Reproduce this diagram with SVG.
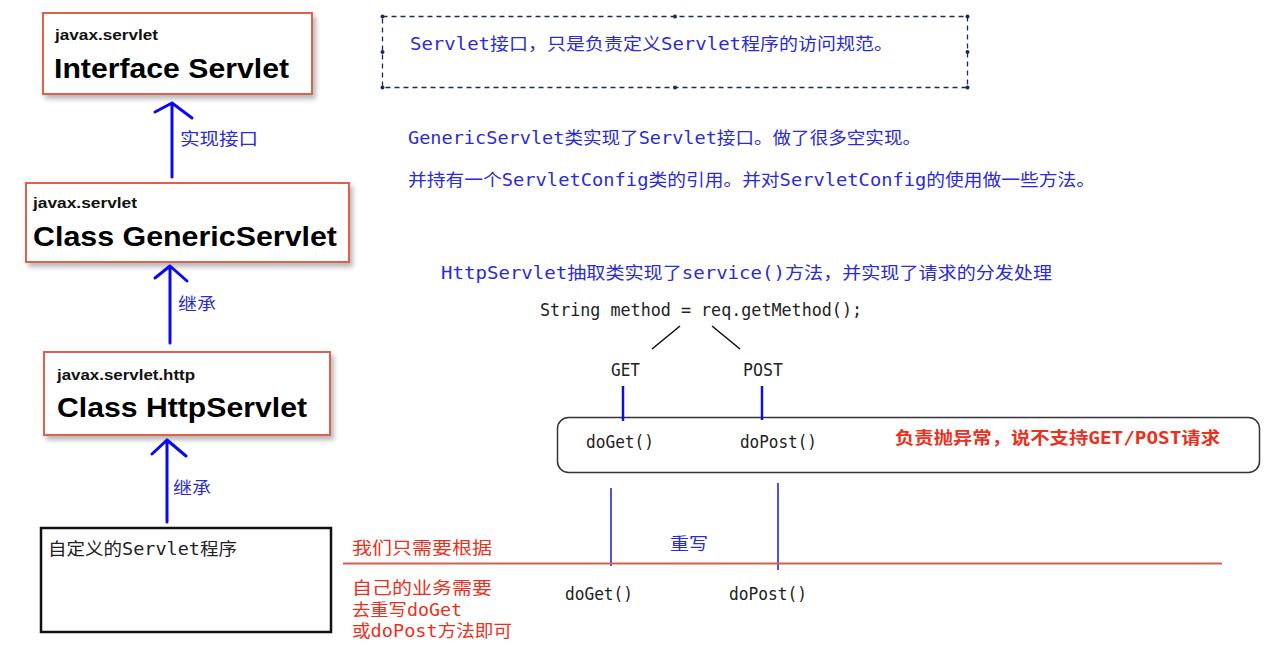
<svg xmlns="http://www.w3.org/2000/svg" width="1280" height="664" viewBox="0 0 1280 664">
<defs>
<filter id="sh" x="-10%" y="-10%" width="130%" height="140%">
<feDropShadow dx="3" dy="4" stdDeviation="2.5" flood-color="#000" flood-opacity="0.28"/>
</filter>
<style>
.cls{fill:#fff;stroke:#e0604c;stroke-width:2;filter:url(#sh)}
.pkg{font-family:"Liberation Sans",Arial,sans-serif;font-weight:bold;font-size:15px;fill:#111}
.ttl{font-family:"Liberation Sans",Arial,sans-serif;font-weight:bold;font-size:28px;fill:#000}
.cn{font-family:"DejaVu Sans Mono","Noto Sans CJK SC",monospace;font-size:17px}
.blue{fill:#2b2bd6}
.red{fill:#e8321e}
.blk{fill:#222}
.arr{stroke:#0a0af0;stroke-width:3;fill:none;stroke-linecap:round;stroke-linejoin:round}
.thin{stroke:#1818e0;stroke-width:1.5;fill:none}
.mid{stroke:#1010d0;stroke-width:2.5;fill:none}
</style>
</defs>
<rect width="1280" height="664" fill="#fff"/>

<g id="servlet">
<rect class="cls" x="43" y="13" width="269" height="81"/>
<text class="pkg" x="55" y="40" textLength="103" lengthAdjust="spacingAndGlyphs">javax.servlet</text>
<text class="ttl" x="54" y="78" textLength="235" lengthAdjust="spacingAndGlyphs">Interface Servlet</text>
</g>

<g id="genericservlet">
<rect class="cls" x="26" y="183" width="323" height="79"/>
<text class="pkg" x="33" y="208" textLength="104" lengthAdjust="spacingAndGlyphs">javax.servlet</text>
<text class="ttl" x="33" y="246" textLength="304" lengthAdjust="spacingAndGlyphs">Class GenericServlet</text>
</g>

<g id="httpservlet">
<rect class="cls" x="44" y="352" width="286" height="83"/>
<text class="pkg" x="57" y="380" textLength="138" lengthAdjust="spacingAndGlyphs">javax.servlet.http</text>
<text class="ttl" x="57" y="417" textLength="250" lengthAdjust="spacingAndGlyphs">Class HttpServlet</text>
</g>

<g id="custom">
<rect x="41" y="528" width="290" height="104" fill="#fff" stroke="#111" stroke-width="2.5"/>
<text class="cn blk" x="48" y="555" textLength="189" lengthAdjust="spacingAndGlyphs">自定义的Servlet程序</text>
</g>

<g id="note-servlet">
<rect x="382.5" y="16.5" width="585" height="71" fill="none" stroke="#1c2a5a" stroke-width="1.3" stroke-dasharray="5,4"/>
<g fill="#1c2a5a">
<circle cx="382.5" cy="16.5" r="2"/><circle cx="675" cy="16.5" r="2"/><circle cx="967.5" cy="16.5" r="2"/>
<circle cx="382.5" cy="52" r="2"/><circle cx="967.5" cy="52" r="2"/>
<circle cx="382.5" cy="87.5" r="2"/><circle cx="675" cy="87.5" r="2"/><circle cx="967.5" cy="87.5" r="2"/>
</g>
<text class="cn blue" x="410" y="50" textLength="483" lengthAdjust="spacingAndGlyphs">Servlet接口，只是负责定义Servlet程序的访问规范。</text>
</g>

<g id="note-generic">
<text class="cn blue" x="408" y="144" textLength="513" lengthAdjust="spacingAndGlyphs">GenericServlet类实现了Servlet接口。做了很多空实现。</text>
<text class="cn blue" x="408" y="186" textLength="687" lengthAdjust="spacingAndGlyphs">并持有一个ServletConfig类的引用。并对ServletConfig的使用做一些方法。</text>
</g>

<g id="note-http">
<text class="cn blue" x="441" y="279" textLength="611" lengthAdjust="spacingAndGlyphs">HttpServlet抽取类实现了service()方法，并实现了请求的分发处理</text>
<text class="cn blk" x="540" y="316" textLength="322" lengthAdjust="spacingAndGlyphs">String method = req.getMethod();</text>
<text class="cn blk" x="611" y="376" textLength="29" lengthAdjust="spacingAndGlyphs">GET</text>
<text class="cn blk" x="743" y="376" textLength="40" lengthAdjust="spacingAndGlyphs">POST</text>
</g>

<g id="dispatch-box">
<rect x="557.5" y="417.5" width="702" height="55" rx="11" fill="none" stroke="#333" stroke-width="1.5"/>
<text class="cn blk" x="586" y="448" textLength="68" lengthAdjust="spacingAndGlyphs">doGet()</text>
<text class="cn blk" x="740" y="448" textLength="77" lengthAdjust="spacingAndGlyphs">doPost()</text>
<text class="cn red" x="895" y="444" textLength="325" lengthAdjust="spacingAndGlyphs" font-weight="bold">负责抛异常，说不支持GET/POST请求</text>
</g>

<g id="override">
<text class="cn red" x="352" y="554" textLength="140" lengthAdjust="spacingAndGlyphs">我们只需要根据</text>
<text class="cn blue" x="670" y="550" textLength="38" lengthAdjust="spacingAndGlyphs">重写</text>
<text class="cn red" x="352" y="594" textLength="140" lengthAdjust="spacingAndGlyphs">自己的业务需要</text>
<text class="cn red" x="352" y="616" textLength="110" lengthAdjust="spacingAndGlyphs">去重写doGet</text>
<text class="cn red" x="352" y="637" textLength="160" lengthAdjust="spacingAndGlyphs">或doPost方法即可</text>
<text class="cn blk" x="565" y="600" textLength="68" lengthAdjust="spacingAndGlyphs">doGet()</text>
<text class="cn blk" x="729" y="600" textLength="78" lengthAdjust="spacingAndGlyphs">doPost()</text>
</g>

<g id="connectors">
<path class="arr" d="M172 177 V103 M155 112 L172 103 L192 118"/>
<text class="cn blue" x="180" y="145" textLength="78" lengthAdjust="spacingAndGlyphs">实现接口</text>
<path class="arr" d="M170 343 V266 M155 278 L170 266 L187 281"/>
<text class="cn blue" x="178" y="310" textLength="38" lengthAdjust="spacingAndGlyphs">继承</text>
<path class="arr" d="M167 522 V440 M152 454 L167 440 L186 456"/>
<text class="cn blue" x="173" y="494" textLength="38" lengthAdjust="spacingAndGlyphs">继承</text>
<path d="M652 349 L680 326 M712 326 L740 349" stroke="#111" stroke-width="1.6" fill="none"/>
<path class="mid" d="M623 386 V421 M762 386 V420"/>
<path class="thin" d="M611 488 V566 M778 483 V570"/>
<path d="M343 563.5 H1222" stroke="#d4604e" stroke-width="2" fill="none"/>
</g>
</svg>
